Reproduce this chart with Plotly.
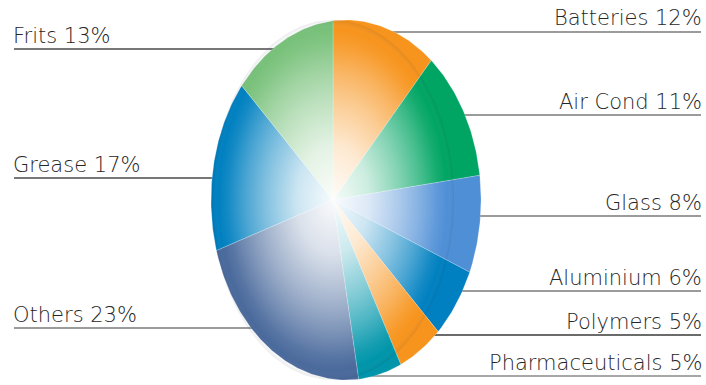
import numpy as np
import plotly.graph_objects as go

# Market share by application
labels = ["Batteries", "Air Cond", "Glass", "Aluminium", "Polymers",
          "Pharmaceuticals", "Others", "Grease", "Frits"]
shares = [12, 11, 8, 6, 5, 5, 23, 17, 13]

# slice colours (outer tone)
colors = ["#F7941D", "#00A563", "#4F8FD6", "#0080C0", "#F7941D",
          "#0095AA", "#4A6A9C", "#0080C0", "#78C17A"]

# label placement: side of the chart and height of the leader line
label_side = ["right", "right", "right", "right", "right", "right", "left", "left", "left"]
label_y = [32, 115, 216, 291, 335, 376, 328, 178, 49]
line_colors = ["#7a7a7a", "#7a7a7a", "#7a7a7a", "#7a7a7a", "#3a3a3a", "#8a8a8a",
               "#7a7a7a", "#4a4a4a", "#4a4a4a"]

W, H = 706, 385
APEX = (333.0, 200.0)          # point where the slices meet
OC = (346.0, 200.0)            # centre of the outer (perspective) rim
RX, RY = 135.0, 180.0          # outer rim radii
FACE_RX, FACE_RY = 121.0, 180.0  # front face radii, centred on the apex


def rim_point(theta):
    """Intersect a ray from the apex (angle clockwise from top) with the rim."""
    dx, dy = RX * np.sin(theta), -RY * np.cos(theta)
    ox, oy = APEX[0] - OC[0], APEX[1] - OC[1]
    a = (dx / RX) ** 2 + (dy / RY) ** 2
    b = 2 * (ox * dx / RX ** 2 + oy * dy / RY ** 2)
    c = (ox / RX) ** 2 + (oy / RY) ** 2 - 1
    t = (-b + np.sqrt(b * b - 4 * a * c)) / (2 * a)
    return APEX[0] + t * dx, APEX[1] + t * dy


fig = go.Figure()

total = float(sum(shares))
start = 0.0
for name, val, col in zip(labels, shares, colors):
    a0 = 2 * np.pi * start / total
    a1 = 2 * np.pi * (start + val) / total
    th = np.linspace(a0, a1, max(int(val * 4), 8))
    xs, ys = [APEX[0]], [APEX[1]]
    for t in th:
        px, py = rim_point(t)
        xs.append(px)
        ys.append(py)
    xs.append(APEX[0])
    ys.append(APEX[1])
    fig.add_trace(go.Scatter(
        x=xs, y=ys, mode="lines", fill="toself", fillcolor=col,
        line=dict(color="rgba(255,255,255,0.35)", width=0.6),
        name=name, hoverinfo="name", showlegend=False,
    ))
    start += val

# white glow on the front face of the pie, slightly shaded at its rim
phi = np.linspace(0, 2 * np.pi, 181)
fig.add_trace(go.Scatter(
    x=APEX[0] + FACE_RX * np.cos(phi),
    y=APEX[1] + FACE_RY * np.sin(phi),
    mode="lines", fill="toself",
    line=dict(width=0, color="rgba(0,0,0,0)"),
    fillgradient=dict(
        type="radial",
        colorscale=[[0.0, "rgba(255,255,255,0.97)"],
                    [0.3, "rgba(255,255,255,0.8)"],
                    [0.55, "rgba(255,255,255,0.52)"],
                    [0.72, "rgba(255,255,255,0.3)"],
                    [0.87, "rgba(255,255,255,0.08)"],
                    [0.95, "rgba(255,255,255,0.0)"],
                    [1.0, "rgba(0,10,40,0.08)"]],
    ),
    hoverinfo="skip", showlegend=False,
))

shapes = []
annotations = []
for name, val, side, y, lc in zip(labels, shares, label_side, label_y, line_colors):
    if side == "right":
        x0, x1 = APEX[0], 701
        ax, anchor = 702.5, "right"
    else:
        x0, x1 = 14, APEX[0]
        ax, anchor = 11.5, "left"
    shapes.append(dict(type="line", xref="x", yref="y", x0=x0, x1=x1, y0=y, y1=y,
                       line=dict(color=lc, width=1.6), layer="below"))
    annotations.append(dict(
        x=ax, y=y - 0.5, xref="x", yref="y", xanchor=anchor, yanchor="bottom",
        text=f"{name} {val}%", showarrow=False, borderpad=0,
        font=dict(family="DejaVu Sans", size=21, color="#262626", weight=300),
    ))

fig.update_layout(
    width=W, height=H, autosize=False,
    margin=dict(l=0, r=0, t=0, b=0),
    paper_bgcolor="white", plot_bgcolor="white",
    xaxis=dict(range=[0, W], visible=False, fixedrange=True),
    yaxis=dict(range=[H, 0], visible=False, fixedrange=True),
    shapes=shapes, annotations=annotations,
    showlegend=False,
)

fig.write_html("out.html")
